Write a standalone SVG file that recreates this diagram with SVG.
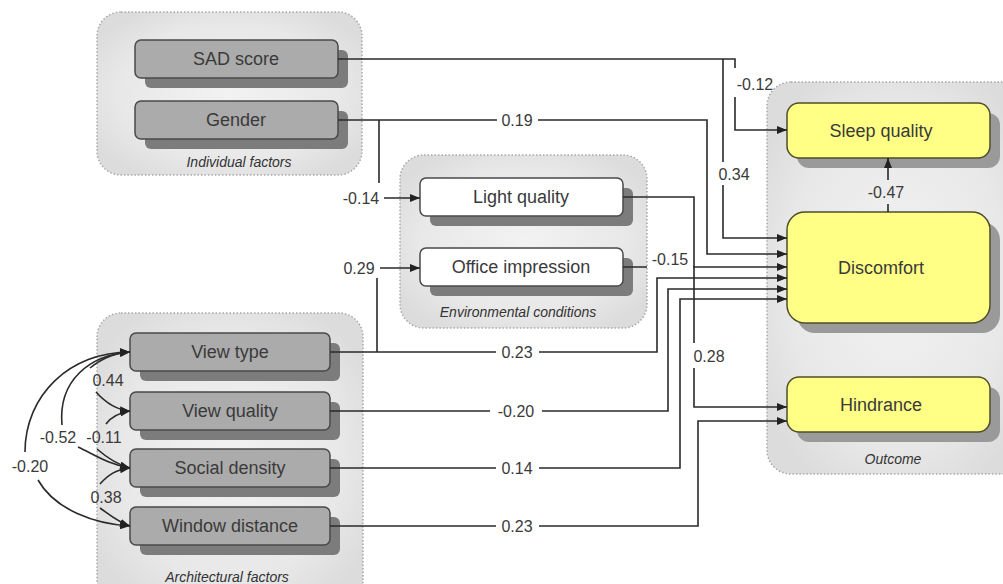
<svg xmlns="http://www.w3.org/2000/svg" width="1003" height="584" viewBox="0 0 1003 584">
<defs>
<marker id="ah" viewBox="0 0 10 8" refX="10" refY="4" markerWidth="10" markerHeight="8" markerUnits="userSpaceOnUse" orient="auto">
<path d="M0,0 L10,4 L0,8 Z" fill="#222"/>
</marker>
<radialGradient id="gbg" cx="50%" cy="50%" r="60%">
<stop offset="0" stop-color="#f2f2f2"/>
<stop offset="0.7" stop-color="#e8e8e8"/>
<stop offset="1" stop-color="#dcdcdc"/>
</radialGradient>
</defs>
<style>
.grp{fill:url(#gbg);stroke:#a8a8a8;stroke-width:1.5;stroke-dasharray:1.5 2}
.gl{font-family:"Liberation Sans",Arial,sans-serif;font-style:italic;font-size:14px;fill:#333;text-anchor:middle}
.sh{fill:#7c7c7c}
.shy{fill:#9a9a9a}
.gn{fill:#ababab;stroke:#4a4a4a;stroke-width:1.5}
.wn{fill:#ffffff;stroke:#4a4a4a;stroke-width:1.5}
.yn{fill:#ffff85;stroke:#4e4e2a;stroke-width:1.5}
.nt{font-family:"Liberation Sans",Arial,sans-serif;font-size:18px;fill:#3a3a3a;text-anchor:middle}
.c{fill:none;stroke:#2a2a2a;stroke-width:1.6}
.a{marker-end:url(#ah)}
.lb{font-family:"Liberation Sans",Arial,sans-serif;font-size:16px;fill:#3a3a3a;text-anchor:middle}
</style>
<rect width="1003" height="584" fill="#ffffff"/>

<g id="group-individual">
<rect class="grp" x="97" y="12" width="265" height="163" rx="24"/>
<text class="gl" x="239" y="167">Individual factors</text>
</g>
<g id="group-environmental">
<rect class="grp" x="400" y="155" width="247" height="173" rx="24"/>
<text class="gl" x="518" y="317">Environmental conditions</text>
</g>
<g id="group-architectural">
<rect class="grp" x="97" y="313" width="266" height="290" rx="24"/>
<text class="gl" x="227" y="582">Architectural factors</text>
</g>
<g id="group-outcome">
<rect class="grp" x="767" y="82" width="260" height="392" rx="24"/>
<text class="gl" x="893" y="464">Outcome</text>
</g>

<g id="node-sad">
<rect class="sh" x="145" y="50" width="203" height="38" rx="6"/>
<rect class="gn" x="135" y="40" width="203" height="38" rx="6"/>
<text class="nt" x="236" y="65">SAD score</text>
</g>
<g id="node-gender">
<rect class="sh" x="145" y="111" width="203" height="38" rx="6"/>
<rect class="gn" x="135" y="101" width="203" height="38" rx="6"/>
<text class="nt" x="236" y="126">Gender</text>
</g>
<g id="node-light">
<rect class="sh" x="430" y="188" width="203" height="38" rx="6"/>
<rect class="wn" x="420" y="178" width="203" height="38" rx="6"/>
<text class="nt" x="521" y="203">Light quality</text>
</g>
<g id="node-office">
<rect class="sh" x="430" y="258" width="203" height="38" rx="6"/>
<rect class="wn" x="420" y="248" width="203" height="38" rx="6"/>
<text class="nt" x="521" y="273">Office impression</text>
</g>
<g id="node-viewtype">
<rect class="sh" x="140" y="343" width="200" height="38" rx="6"/>
<rect class="gn" x="130" y="333" width="200" height="38" rx="6"/>
<text class="nt" x="230" y="358">View type</text>
</g>
<g id="node-viewquality">
<rect class="sh" x="140" y="402" width="200" height="38" rx="6"/>
<rect class="gn" x="130" y="392" width="200" height="38" rx="6"/>
<text class="nt" x="230" y="417">View quality</text>
</g>
<g id="node-social">
<rect class="sh" x="140" y="459" width="200" height="38" rx="6"/>
<rect class="gn" x="130" y="449" width="200" height="38" rx="6"/>
<text class="nt" x="230" y="474">Social density</text>
</g>
<g id="node-window">
<rect class="sh" x="140" y="517" width="200" height="38" rx="6"/>
<rect class="gn" x="130" y="507" width="200" height="38" rx="6"/>
<text class="nt" x="230" y="532">Window distance</text>
</g>
<g id="node-sleep">
<rect class="shy" x="797" y="113" width="203" height="55" rx="12"/>
<rect class="yn" x="787" y="103" width="203" height="55" rx="12"/>
<text class="nt" x="881" y="137">Sleep quality</text>
</g>
<g id="node-discomfort">
<rect class="shy" x="797" y="222" width="203" height="111" rx="18"/>
<rect class="yn" x="787" y="212" width="203" height="111" rx="18"/>
<text class="nt" x="881" y="274">Discomfort</text>
</g>
<g id="node-hindrance">
<rect class="shy" x="797" y="387" width="203" height="55" rx="12"/>
<rect class="yn" x="787" y="377" width="203" height="55" rx="12"/>
<text class="nt" x="881" y="411">Hindrance</text>
</g>

<g id="connectors">
<path class="c a" d="M338 59 H735 V68 M735 97 V130 H787"/>
<path class="c a" d="M723 59 V162 M723 185 V238 H787"/>
<path class="c a" d="M338 120 H497 M538 120 H707 V254 H787"/>
<path class="c a" d="M379 120 V183 M384 198 H420"/>
<path class="c a" d="M377 352 V278 M380 268 H420"/>
<path class="c a" d="M623 197 H694 V343 M694 368 V407 H787"/>
<path class="c a" d="M623 267 H647 M693 267 H787"/>
<path class="c a" d="M330 352 H496 M539 352 H657 V278 H787"/>
<path class="c a" d="M330 411 H490 M542 411 H668 V289 H787"/>
<path class="c a" d="M330 468 H496 M539 468 H680 V299 H787"/>
<path class="c a" d="M330 526 H496 M539 526 H698 V421 H787"/>
<path class="c a" d="M888 212 V204 M888 180 V158"/>
<path class="c a" d="M25 452 C25 395 70 352 130 352"/>
<path class="c a" d="M38 480 C55 510 95 524 130 526"/>
<path class="c a" d="M62 425 C58 380 90 355 130 352"/>
<path class="c a" d="M78 447 C95 455 110 465 130 468"/>
<path class="c a" d="M90 368 C100 360 110 354 130 352"/>
<path class="c a" d="M96 392 C105 402 115 410 130 411"/>
<path class="c a" d="M106 424 C111 417 118 413 130 411"/>
<path class="c a" d="M97 449 C105 456 115 464 130 468"/>
<path class="c a" d="M100 484 C108 475 115 470 130 468"/>
<path class="c a" d="M100 508 C110 515 118 522 130 526"/>
<text class="lb" x="755" y="90">-0.12</text>
<text class="lb" x="734" y="180">0.34</text>
<text class="lb" x="517" y="126">0.19</text>
<text class="lb" x="361" y="204">-0.14</text>
<text class="lb" x="359" y="274">0.29</text>
<text class="lb" x="709" y="362">0.28</text>
<text class="lb" x="670" y="265">-0.15</text>
<text class="lb" x="517" y="358">0.23</text>
<text class="lb" x="516" y="417">-0.20</text>
<text class="lb" x="517" y="474">0.14</text>
<text class="lb" x="517" y="532">0.23</text>
<text class="lb" x="886" y="198">-0.47</text>
<text class="lb" x="108" y="386">0.44</text>
<text class="lb" x="104" y="443">-0.11</text>
<text class="lb" x="58" y="443">-0.52</text>
<text class="lb" x="106" y="503">0.38</text>
<text class="lb" x="30" y="472">-0.20</text>
</g>
</svg>
